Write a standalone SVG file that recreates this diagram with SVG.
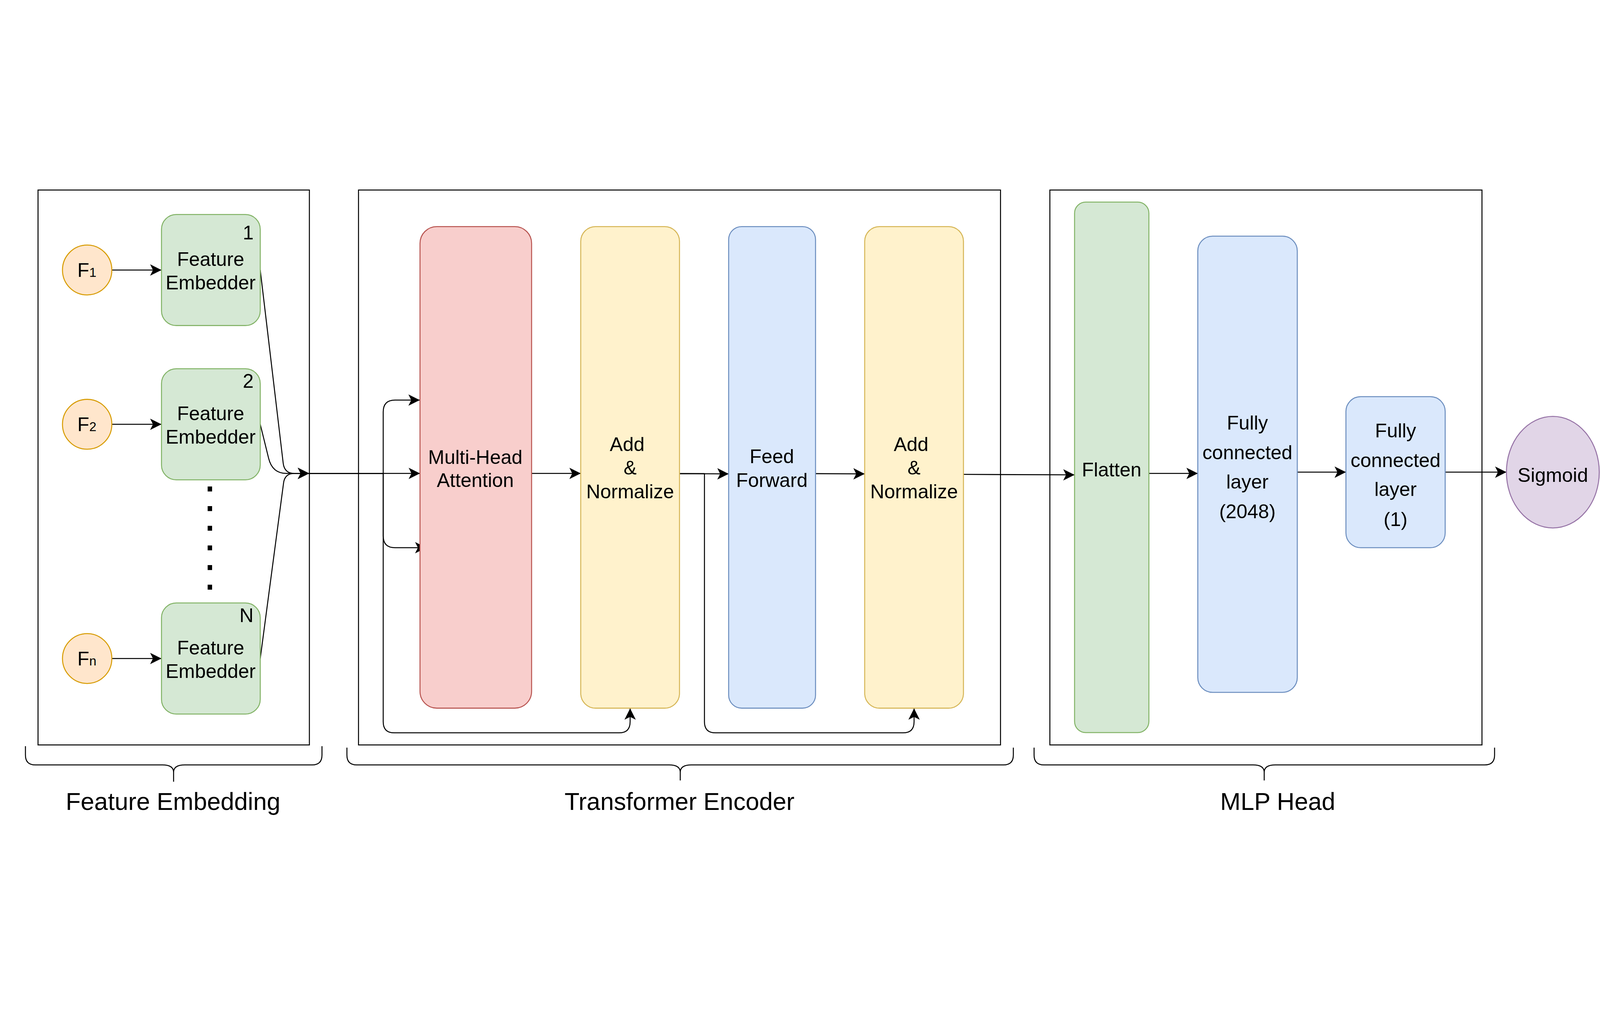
<svg xmlns="http://www.w3.org/2000/svg" width="6480" height="2635" viewBox="0 0 6480 2635">
<defs>
<style>
:root{width:100vw;height:100vh;display:block}
.panel{fill:none;stroke:#000;stroke-width:4}
.green{fill:#d5e8d4;stroke:#82b366;stroke-width:4}
.orange{fill:#ffe6cc;stroke:#d79b00;stroke-width:4}
.red{fill:#f8cecc;stroke:#b85450;stroke-width:4}
.yellow{fill:#fff2cc;stroke:#d6b656;stroke-width:4}
.blue{fill:#dae8fc;stroke:#6c8ebf;stroke-width:4}
.purple{fill:#e1d5e7;stroke:#9673a6;stroke-width:4}
.t{font-family:"Liberation Sans",Arial,Helvetica,sans-serif;font-size:79px;fill:#000;text-anchor:middle}
.big{font-size:99px}
.sub{font-size:52px}
.edge{fill:none;stroke:#000;stroke-width:4;stroke-linejoin:round}
.brace{fill:none;stroke:#000;stroke-width:4;stroke-linejoin:round}
</style>
<marker id="arr" markerUnits="userSpaceOnUse" viewBox="-48 -26 50 52" markerWidth="50" markerHeight="52" refX="0" refY="0" orient="auto">
<path d="M0,0 L-46,-23 L-34.5,0 L-46,23 Z" fill="#000"/>
</marker>
</defs>
<rect width="6480" height="2635" fill="#fff"/>

<g id="panels">
<rect id="panel-feature-embedding" class="panel" x="154" y="3" width="1099" height="2248"/>
<rect id="panel-transformer-encoder" class="panel" x="1452" y="3" width="2600" height="2248"/>
<rect id="panel-mlp-head" class="panel" x="4252" y="3" width="1750" height="2248"/>
</g>

<g id="connectors">
<path class="edge" marker-end="url(#arr)" d="M453,327 L654,327"/>
<path class="edge" marker-end="url(#arr)" d="M453,952 L654,952"/>
<path class="edge" marker-end="url(#arr)" d="M453,1901 L654,1901"/>
<path class="edge" marker-end="url(#arr)" d="M1054,327 L1147,1110 Q1152,1151 1192,1151 L1252,1151"/>
<path class="edge" marker-end="url(#arr)" d="M1054,952 L1088,1090 Q1103,1151 1160,1151 L1252,1151"/>
<path class="edge" marker-end="url(#arr)" d="M1054,1901 L1148,1193 Q1152,1151 1192,1151 L1252,1151"/>
<path class="edge" marker-end="url(#arr)" d="M1254,1151 L1701,1151"/>
<path class="edge" marker-end="url(#arr)" d="M1254,1151 L1552,1151 L1552,902 Q1552,854 1600,854 L1700,854"/>
<path class="edge" marker-end="url(#arr)" d="M1254,1151 L1552,1151 L1552,1404 Q1552,1452 1600,1452 L1727,1452"/>
<path class="edge" marker-end="url(#arr)" d="M1254,1151 L1552,1151 L1552,2157 Q1552,2202 1597,2202 L2507,2202 Q2552,2202 2552,2157 L2552,2103"/>
<path class="edge" marker-end="url(#arr)" d="M2153,1151 L2352,1151"/>
<path class="edge" marker-end="url(#arr)" d="M2752,1152 L2951,1153"/>
<path class="edge" marker-end="url(#arr)" d="M2752,1152 L2853,1152 L2853,2157 Q2853,2202 2898,2202 L3657,2202 Q3702,2202 3702,2157 L3702,2103"/>
<path class="edge" marker-end="url(#arr)" d="M3303,1152 L3502,1153"/>
<path class="edge" marker-end="url(#arr)" d="M3902,1155 L4352,1157"/>
<path class="edge" marker-end="url(#arr)" d="M4653,1151 L4851,1151"/>
<path class="edge" marker-end="url(#arr)" d="M5254,1146 L5451,1146"/>
<path class="edge" marker-end="url(#arr)" d="M5853,1146 L6101,1146"/>
</g>

<g id="f1"><ellipse class="orange" cx="353" cy="327" rx="100" ry="101"/><text class="t" x="352" y="355">F<tspan class="sub">1</tspan></text></g>
<g id="f2"><ellipse class="orange" cx="353" cy="952" rx="100" ry="101"/><text class="t" x="352" y="980">F<tspan class="sub">2</tspan></text></g>
<g id="fn"><ellipse class="orange" cx="353" cy="1901" rx="100" ry="101"/><text class="t" x="352" y="1929">F<tspan class="sub">n</tspan></text></g>

<g id="fe1"><rect class="green" x="654" y="102" width="400" height="450" rx="60"/>
<text class="t" x="1027" y="203" style="text-anchor:end">1</text>
<text class="t" x="853" y="311">Feature</text><text class="t" x="853" y="405">Embedder</text></g>
<g id="fe2"><rect class="green" x="654" y="727" width="400" height="450" rx="60"/>
<text class="t" x="1027" y="804" style="text-anchor:end">2</text>
<text class="t" x="853" y="935">Feature</text><text class="t" x="853" y="1030">Embedder</text></g>
<g id="fen"><rect class="green" x="654" y="1676" width="400" height="450" rx="60"/>
<text class="t" x="1027" y="1753" style="text-anchor:end">N</text>
<text class="t" x="853" y="1884">Feature</text><text class="t" x="853" y="1979">Embedder</text></g>

<g id="ellipsis-dots">
<line x1="850" y1="1204" x2="850" y2="1624" stroke="#000" stroke-width="18" stroke-dasharray="20 59.6"/>
</g>

<g id="multi-head-attention"><rect class="red" x="1701" y="151" width="452" height="1951" rx="68"/>
<text class="t" x="1925" y="1112">Multi-Head</text><text class="t" x="1925" y="1206">Attention</text></g>
<g id="add-normalize-1"><rect class="yellow" x="2352" y="151" width="400" height="1951" rx="60"/>
<text class="t" x="2540" y="1060">Add</text><text class="t" x="2552" y="1156">&amp;</text><text class="t" x="2552" y="1252">Normalize</text></g>
<g id="feed-forward"><rect class="blue" x="2951" y="151" width="352" height="1951" rx="53"/>
<text class="t" x="3126" y="1110">Feed</text><text class="t" x="3126" y="1206">Forward</text></g>
<g id="add-normalize-2"><rect class="yellow" x="3502" y="151" width="400" height="1951" rx="60"/>
<text class="t" x="3690" y="1060">Add</text><text class="t" x="3702" y="1156">&amp;</text><text class="t" x="3702" y="1252">Normalize</text></g>

<g id="flatten"><rect class="green" x="4352" y="52" width="301" height="2149" rx="45"/>
<text class="t" x="4502" y="1164">Flatten</text></g>
<g id="fc-2048"><rect class="blue" x="4851" y="190" width="403" height="1848" rx="60"/>
<text class="t" x="5052" y="974">Fully</text><text class="t" x="5052" y="1094">connected</text><text class="t" x="5052" y="1213">layer</text><text class="t" x="5052" y="1332">(2048)</text></g>
<g id="fc-1"><rect class="blue" x="5451" y="840" width="402" height="612" rx="60"/>
<text class="t" x="5652" y="1005">Fully</text><text class="t" x="5652" y="1126">connected</text><text class="t" x="5652" y="1243">layer</text><text class="t" x="5652" y="1364">(1)</text></g>
<g id="sigmoid"><ellipse class="purple" cx="6289" cy="1146" rx="188" ry="226"/>
<text class="t" x="6289" y="1185">Sigmoid</text></g>

<g id="brace-feature-embedding">
<path class="brace" d="M103,2256 L103,2292 Q103,2332 143,2332 L658,2332 Q703,2332 703,2362 L703,2400 M703,2362 Q703,2332 748,2332 L1264,2332 Q1304,2332 1304,2292 L1304,2256"/>
<text class="t big" x="701" y="2515">Feature Embedding</text>
</g>
<g id="brace-transformer-encoder">
<path class="brace" d="M1405,2262 L1405,2292 Q1405,2332 1445,2332 L2710,2332 Q2755,2332 2755,2362 L2755,2395 M2755,2362 Q2755,2332 2800,2332 L4064,2332 Q4104,2332 4104,2292 L4104,2262"/>
<text class="t big" x="2752" y="2515">Transformer Encoder</text>
</g>
<g id="brace-mlp-head">
<path class="brace" d="M4188,2262 L4188,2292 Q4188,2332 4228,2332 L5075,2332 Q5120,2332 5120,2362 L5120,2395 M5120,2362 Q5120,2332 5165,2332 L6013,2332 Q6053,2332 6053,2292 L6053,2262"/>
<text class="t big" x="5175" y="2515">MLP Head</text>
</g>
</svg>
